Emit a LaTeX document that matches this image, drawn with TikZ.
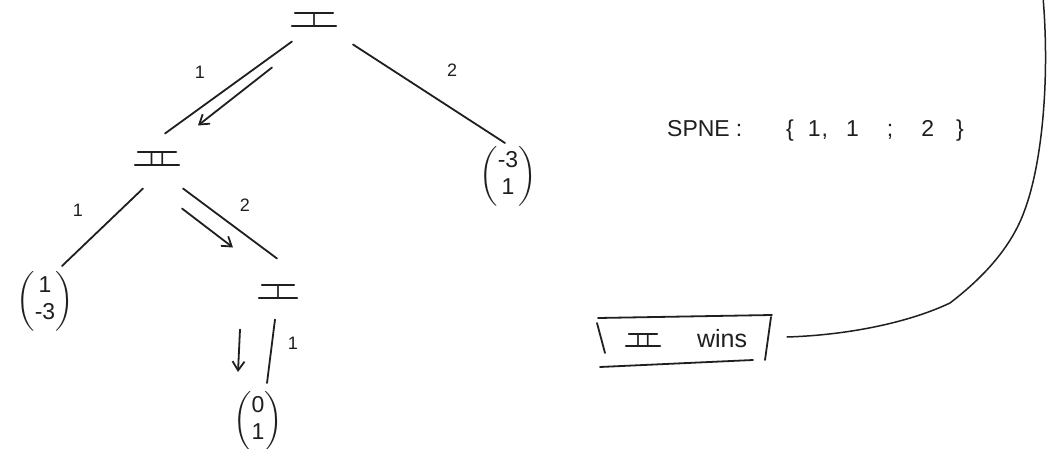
\documentclass[tikz,border=0pt]{standalone}
\usepackage{amsmath}
\usepackage{fontspec}
\setsansfont{Liberation Sans}
\usetikzlibrary{arrows.meta}
\begin{document}
\begin{tikzpicture}[x=1pt,y=-1pt,
  ink/.style={draw=black!88, line width=1.8pt, line cap=round},
  move/.style={ink, -{Straight Barb[length=9pt,width=12pt]}},
  % a player's Roman numeral, written with a bar above and below
  player/.style={font=\sffamily\fontsize{18}{18}\selectfont, text=black!88,
    inner xsep=0pt, inner ysep=0pt, minimum width=#1,
    append after command={
      (\tikzlastnode.north west) edge[ink, shorten <=3pt, shorten >=3pt] (\tikzlastnode.north east)
      (\tikzlastnode.south west) edge[ink] (\tikzlastnode.south east)}},
  player/.default=44pt,
  payoff/.style={font=\fontsize{23}{27}\selectfont, inner sep=0pt, text=black!88},
  lbl/.style={font=\sffamily\fontsize{18}{18}\selectfont, inner sep=0pt, text=black!88},
  note/.style={font=\sffamily\fontsize{23}{23}\selectfont, inner sep=0pt, text=black!88},
]
\fill[white] (0,0) rectangle (1049,449);
\useasboundingbox (0,0) rectangle (1049,449);

% decision nodes
\node[player] (root) at (314,19.5) {I};
\node[player] (II) at (157,158.5) {I\hspace{6pt}I};
\node[player=38pt] (I2) at (278,291.5) {I};

% terminal payoffs
\node[payoff] (p2) at (508,176) {$\begin{pmatrix}\text{\sffamily -3}\\\text{\sffamily 1}\end{pmatrix}$};
\node[payoff] (p1) at (45,301) {$\begin{pmatrix}\text{\sffamily 1}\\\text{\sffamily -3}\end{pmatrix}$};
\node[payoff] (p3) at (258,421) {$\begin{pmatrix}\text{\sffamily 0}\\\text{\sffamily 1}\end{pmatrix}$};

% branches
\draw[ink] ([shift={(-22,22)}]root.center) -- ([shift={(8,-25)}]II.center);
\draw[ink] ([shift={(39,25)}]root.center) -- ([shift={(-3,-33)}]p2.center);
\draw[ink] ([shift={(-14,30)}]II.center) -- ([shift={(17,-35)}]p1.center);
\draw[ink] ([shift={(26,30)}]II.center) -- ([shift={(-1,-33)}]I2.center);
\draw[ink] ([shift={(-3,28)}]I2.center) -- ([shift={(9,-38)}]p3.center);

% equilibrium path
\draw[move] ([shift={(-42,48)}]root.center) -- ([shift={(41,-33)}]II.center);
\draw[move] ([shift={(25,50)}]II.center) -- ([shift={(-45,-44)}]I2.center);
\draw[move] ([shift={(-38,38)}]I2.center) -- ([shift={(-20,-49)}]p3.center);

% action labels
\node[lbl] (a1) at (200,72) {1};
\node[lbl] (a2) at (452,70) {2};
\node[lbl] (b1) at (78,210) {1};
\node[lbl] (b2) at (245,205) {2};
\node[lbl] (c1) at (293,343) {1};

% equilibrium statement
\node[note, anchor=west] (spne) at (667,131)
  {SPNE\hspace{6pt}:\hspace{44pt}\{\hspace{14pt}1\hspace{1pt},\hspace{18pt}1\hspace{28pt};\hspace{28pt}2\hspace{22pt}\}};

% boxed outcome
\node[player=34pt] (wII) at (643,340) {I\hspace{5pt}I};
\node[note, font=\sffamily\fontsize{25}{25}\selectfont, anchor=base] (wins) at (722,347) {wins};
\draw[ink] ([shift={(-45,-22)}]wII.center) -- ([shift={(129,-25)}]wII.center);
\draw[ink] ([shift={(-46,-17)}]wII.center) -- ([shift={(-38,13)}]wII.center);
\draw[ink] ([shift={(128,-23)}]wII.center) -- ([shift={(122,20)}]wII.center);
\draw[ink] ([shift={(-43,27)}]wII.center) -- ([shift={(110,20)}]wII.center);

% long hand-drawn link running off the top edge
\coordinate (linkend) at (1043,-3);
\draw[ink, line width=1.5pt] ([shift={(144,-3)}]wII.center)
  .. controls (850,335) and (910,322) .. (950,303)
  .. controls (980,280) and (1010,250) .. (1024,212)
  .. controls (1042,165) and (1050,80) .. (linkend);
\end{tikzpicture}
\end{document}
